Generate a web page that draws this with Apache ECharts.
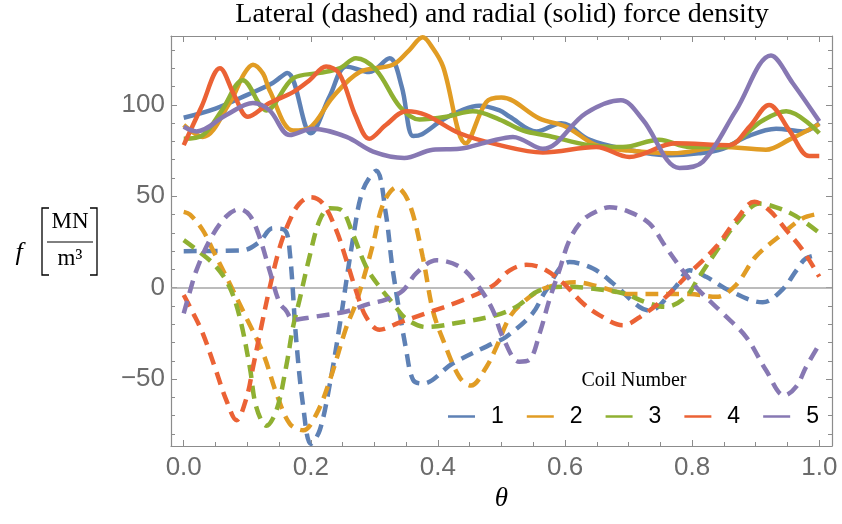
<!DOCTYPE html>
<html>
<head>
<meta charset="utf-8">
<script src="https://cdn.jsdelivr.net/npm/echarts@6/dist/echarts.min.js"></script>
<style>
  html, body { margin: 0; padding: 0; background: #fff; }
  #main { width: 842px; height: 524px; }
</style>
</head>
<body>
<div id="main"></div>
<script>
// coil names + colours (Mathematica default palette)
var coilNames = ['1', '2', '3', '4', '5'];
var coilColors = ['#5e81b5', '#e19c24', '#8fb032', '#eb6235', '#8778b3'];

// radial force density (solid), [theta, f]
var radial1 = [[0, 93], [0.05, 98], [0.1, 105.5], [0.14, 112], [0.163, 117.5], [0.2, 84.5], [0.23, 105], [0.256, 121], [0.292, 118], [0.324, 125.5], [0.343, 110], [0.361, 83], [0.375, 84], [0.408, 92], [0.44, 97.5], [0.465, 99.5], [0.497, 97], [0.513, 93.5], [0.555, 85.5], [0.594, 90], [0.638, 81], [0.691, 76], [0.764, 72.5], [0.81, 73.5], [0.848, 76], [0.885, 82.5], [0.932, 87], [0.974, 85.5], [1.0, 90]];
var radial2 = [[0, 89], [0.03, 82.5], [0.072, 101], [0.095, 117], [0.109, 122], [0.125, 117], [0.135, 108], [0.172, 86], [0.198, 87.5], [0.235, 104.5], [0.277, 118], [0.329, 122], [0.355, 130], [0.376, 137], [0.392, 131], [0.408, 121], [0.444, 79], [0.476, 101.5], [0.5, 104], [0.56, 92.5], [0.602, 88], [0.649, 78], [0.701, 75], [0.769, 73.5], [0.848, 77], [0.916, 75.5], [0.953, 81], [1.0, 89.5]];
var radial3 = [[0, 81.5], [0.03, 83.5], [0.06, 97], [0.093, 113.5], [0.13, 97], [0.172, 114.5], [0.214, 117.5], [0.245, 120], [0.271, 125.5], [0.303, 119], [0.34, 99], [0.371, 92], [0.413, 93.5], [0.455, 96.5], [0.497, 92], [0.534, 86], [0.575, 83], [0.638, 78], [0.691, 77], [0.748, 81], [0.796, 77], [0.848, 77], [0.911, 91.5], [0.948, 96.5], [1.0, 84.5]];
var radial4 = [[0, 78], [0.028, 99], [0.057, 120], [0.08, 105], [0.101, 93.5], [0.135, 101], [0.172, 107], [0.198, 113.5], [0.224, 121], [0.245, 117], [0.271, 93.5], [0.292, 81.5], [0.318, 89], [0.35, 96.5], [0.381, 94.5], [0.434, 84.5], [0.497, 78], [0.565, 74], [0.649, 77], [0.701, 71.5], [0.774, 79], [0.858, 78], [0.89, 88], [0.921, 100], [0.953, 86], [0.984, 72], [1.0, 72]];
var radial5 = [[0, 88], [0.02, 85.5], [0.067, 94.5], [0.109, 101], [0.135, 97], [0.167, 83.5], [0.203, 87], [0.256, 82.5], [0.298, 74.5], [0.347, 71], [0.392, 75.5], [0.434, 76], [0.481, 80], [0.518, 82.5], [0.565, 76], [0.633, 95.5], [0.688, 102.5], [0.722, 92], [0.78, 65.5], [0.817, 69], [0.869, 97], [0.924, 127], [0.958, 112], [1.0, 91]];

// lateral force density (dashed), [theta, f]
var lateral1 = [[0, 20], [0.093, 20.5], [0.119, 25], [0.14, 32.5], [0.159, 31.5], [0.167, 19], [0.177, -28.5], [0.188, -65], [0.2, -85.5], [0.214, -78], [0.23, -52.5], [0.245, -21.5], [0.266, 26], [0.282, 53.5], [0.303, 64], [0.318, 40.5], [0.329, 9.5], [0.35, -34], [0.361, -50.5], [0.376, -52.5], [0.423, -41.5], [0.486, -30.5], [0.507, -27], [0.549, -14], [0.57, -1.5], [0.607, 14], [0.644, 10.5], [0.675, 2.5], [0.717, -10.5], [0.733, -12.5], [0.774, 0.5], [0.796, 9.5], [0.822, 6], [0.858, -1.5], [0.911, -8], [0.942, -1], [0.964, 9.5], [0.979, 16], [1.0, 18]];
var lateral2 = [[0, 41.5], [0.01, 40], [0.03, 31.5], [0.046, 20.5], [0.067, 6], [0.093, -12.5], [0.125, -36], [0.146, -58], [0.167, -74.5], [0.188, -78], [0.209, -69], [0.23, -50.5], [0.256, -21.5], [0.271, -8.5], [0.282, 4], [0.298, 24], [0.314, 46], [0.335, 55], [0.355, 46], [0.376, 17], [0.392, -12.5], [0.408, -28.5], [0.434, -49], [0.452, -53.5], [0.476, -43.5], [0.492, -32.5], [0.513, -16], [0.534, -8], [0.56, -1.5], [0.586, 1.5], [0.617, 3], [0.654, 0.5], [0.701, -3.5], [0.796, -3.5], [0.838, -5], [0.869, 1.5], [0.9, 17], [0.942, 29.5], [0.974, 38], [1.0, 40.5]];
var lateral3 = [[0, 26], [0.025, 19.5], [0.051, 11.5], [0.072, 0.5], [0.088, -16], [0.104, -43.5], [0.114, -65], [0.13, -75.5], [0.146, -67], [0.161, -43.5], [0.172, -21.5], [0.182, -7], [0.198, 17], [0.214, 37], [0.23, 43.5], [0.248, 42.5], [0.266, 29.5], [0.287, 11.5], [0.308, 0.5], [0.329, -8.5], [0.35, -17], [0.381, -21.5], [0.434, -19], [0.492, -15], [0.523, -10.5], [0.56, -1.5], [0.607, 0.5], [0.63, 0], [0.691, -3], [0.727, -8], [0.758, -10.5], [0.79, -5], [0.811, 6], [0.843, 22.5], [0.869, 35], [0.906, 46], [0.932, 44], [0.964, 39], [1.0, 30]];
var lateral4 = [[0, -4], [0.015, -14], [0.03, -25], [0.049, -43.5], [0.067, -61.5], [0.083, -72.5], [0.099, -60], [0.109, -43.5], [0.122, -21.5], [0.134, -2], [0.151, 22], [0.167, 37], [0.182, 46], [0.2, 49.5], [0.219, 46], [0.24, 31.5], [0.256, 15], [0.271, -1.5], [0.287, -16], [0.308, -23], [0.34, -19], [0.381, -14], [0.434, -7.5], [0.486, 1], [0.513, 9.5], [0.539, 12.5], [0.565, 10.5], [0.597, 2.5], [0.628, -8.5], [0.654, -15], [0.691, -20.5], [0.722, -15], [0.754, -6.5], [0.796, 8], [0.838, 22.5], [0.869, 37], [0.898, 47], [0.921, 42.5], [0.948, 31.5], [0.974, 20.5], [1.0, 6]];
var lateral5 = [[0, -14], [0.009, -3], [0.02, 9.5], [0.041, 26], [0.067, 39], [0.088, 43], [0.104, 39.5], [0.119, 28], [0.135, 9.5], [0.151, -8.5], [0.161, -12.5], [0.172, -17.5], [0.203, -16], [0.256, -13], [0.29, -9], [0.318, -6.5], [0.345, -1.5], [0.366, 8], [0.398, 15], [0.434, 11.5], [0.461, 2], [0.486, -12], [0.502, -27], [0.528, -40.5], [0.544, -39.5], [0.56, -25], [0.575, -7], [0.591, 9.5], [0.607, 26], [0.628, 37], [0.654, 42.5], [0.67, 44], [0.701, 41.5], [0.733, 35], [0.758, 22.5], [0.785, 9.5], [0.811, -1.5], [0.848, -14], [0.885, -27], [0.916, -45], [0.945, -59], [0.964, -54], [0.979, -43.5], [1.0, -31]];

var radial = [radial1, radial2, radial3, radial4, radial5];
var lateral = [lateral1, lateral2, lateral3, lateral4, lateral5];

var frameColor = '#8c8c8c';
var tickFont = 'Liberation Sans';
var serif = 'Liberation Serif';

function fmtTick(v) {
  return v < 0 ? '\u2212' + Math.abs(v) : String(v);
}

var chart = echarts.init(document.getElementById('main'));

var series = [];
for (var i = 0; i < 5; i++) {
  series.push({
    name: coilNames[i],
    type: 'line',
    data: radial[i],
    smooth: 0.35,
    symbol: 'none',
    color: coilColors[i],
    lineStyle: { width: 4.5, color: coilColors[i] },
    z: 3
  });
}
for (var i = 0; i < 5; i++) {
  var s = {
    name: coilNames[i],
    type: 'line',
    data: lateral[i],
    smooth: 0.35,
    symbol: 'none',
    color: coilColors[i],
    lineStyle: { width: 4.5, color: coilColors[i], type: [13, 8], cap: 'butt' },
    z: 3
  };
  if (i === 0) {
    // horizontal axis line at f = 0
    s.markLine = {
      silent: true,
      symbol: 'none',
      label: { show: false },
      lineStyle: { color: '#a6a6a6', width: 1.5, type: 'solid' },
      data: [{ yAxis: 0 }],
      z: 1
    };
  }
  series.push(s);
}

function frameAxis(pos, showLabel, minorSplit) {
  return {
    type: 'value',
    position: pos,
    axisLine: { show: true, onZero: false, lineStyle: { color: frameColor, width: 1.2 } },
    axisTick: { show: true, inside: true, length: 6, lineStyle: { color: frameColor, width: 1 } },
    minorTick: { show: true, splitNumber: minorSplit, length: 4, lineStyle: { color: frameColor, width: 1 } },
    splitLine: { show: false },
    axisLabel: {
      show: showLabel,
      showMinLabel: false,
      showMaxLabel: false,
      color: '#6b6b6b',
      fontFamily: tickFont,
      fontSize: 26
    }
  };
}

var xBottom = frameAxis('bottom', true, 4);
xBottom.min = -0.02; xBottom.max = 1.02; xBottom.splitNumber = 5;
xBottom.axisLabel.margin = 9;
xBottom.axisLabel.formatter = function (v) { return v.toFixed(1); };
xBottom.name = '\u03b8';
xBottom.nameLocation = 'middle';
xBottom.nameGap = 36;
xBottom.nameTextStyle = { fontFamily: serif, fontStyle: 'italic', fontSize: 27, color: '#000' };

var xTop = frameAxis('top', false, 4);
xTop.min = -0.02; xTop.max = 1.02; xTop.splitNumber = 5;

var yLeft = frameAxis('left', true, 5);
yLeft.min = -86.6; yLeft.max = 137.7; yLeft.splitNumber = 5;
yLeft.axisLabel.margin = 6;
yLeft.axisLabel.formatter = fmtTick;

var yRight = frameAxis('right', false, 5);
yRight.min = -86.6; yRight.max = 137.7; yRight.splitNumber = 5;

var option = {
  animation: false,
  backgroundColor: '#fff',
  color: coilColors,
  grid: { left: 171, right: 10, top: 36, bottom: 78 },
  xAxis: [xBottom, xTop],
  yAxis: [yLeft, yRight],
  legend: {
    data: coilNames,
    left: 448,
    top: 405,
    padding: 0,
    icon: 'rect',
    itemWidth: 27,
    itemHeight: 2.5,
    itemGap: 23,
    itemStyle: { borderWidth: 0 },
    selectedMode: false,
    textStyle: { fontFamily: tickFont, fontSize: 23, color: '#000', padding: [0, 0, 0, 11] }
  },
  graphic: [
    {
      type: 'text', x: 502, y: 15,
      style: { text: 'Lateral (dashed) and radial (solid) force density', align: 'center', verticalAlign: 'middle',
               fontFamily: serif, fontSize: 28, fill: '#000' }
    },
    {
      type: 'text', x: 634, y: 381,
      style: { text: 'Coil Number', align: 'center', verticalAlign: 'middle', fontFamily: serif, fontSize: 20, fill: '#000' }
    },
    // y axis label: f [MN / m^3]
    {
      type: 'text', x: 19, y: 253,
      style: { text: 'f', align: 'center', verticalAlign: 'middle', fontFamily: serif, fontStyle: 'italic', fontSize: 26, fill: '#000' }
    },
    {
      type: 'polyline',
      shape: { points: [[49, 208], [42, 208], [42, 275], [49, 275]] },
      style: { stroke: '#000', fill: null, lineWidth: 1.3 }
    },
    {
      type: 'polyline',
      shape: { points: [[90, 208], [97, 208], [97, 275], [90, 275]] },
      style: { stroke: '#000', fill: null, lineWidth: 1.3 }
    },
    {
      type: 'text', x: 70, y: 222,
      style: { text: 'MN', align: 'center', verticalAlign: 'middle', fontFamily: serif, fontSize: 23, fill: '#000' }
    },
    {
      type: 'line',
      shape: { x1: 47, y1: 242, x2: 93, y2: 242 },
      style: { stroke: '#000', lineWidth: 1 }
    },
    {
      type: 'text', x: 70, y: 259,
      style: { text: 'm\u00b3', align: 'center', verticalAlign: 'middle', fontFamily: serif, fontSize: 23, fill: '#000' }
    }
  ],
  series: series
};

chart.setOption(option);
</script>
</body>
</html>
